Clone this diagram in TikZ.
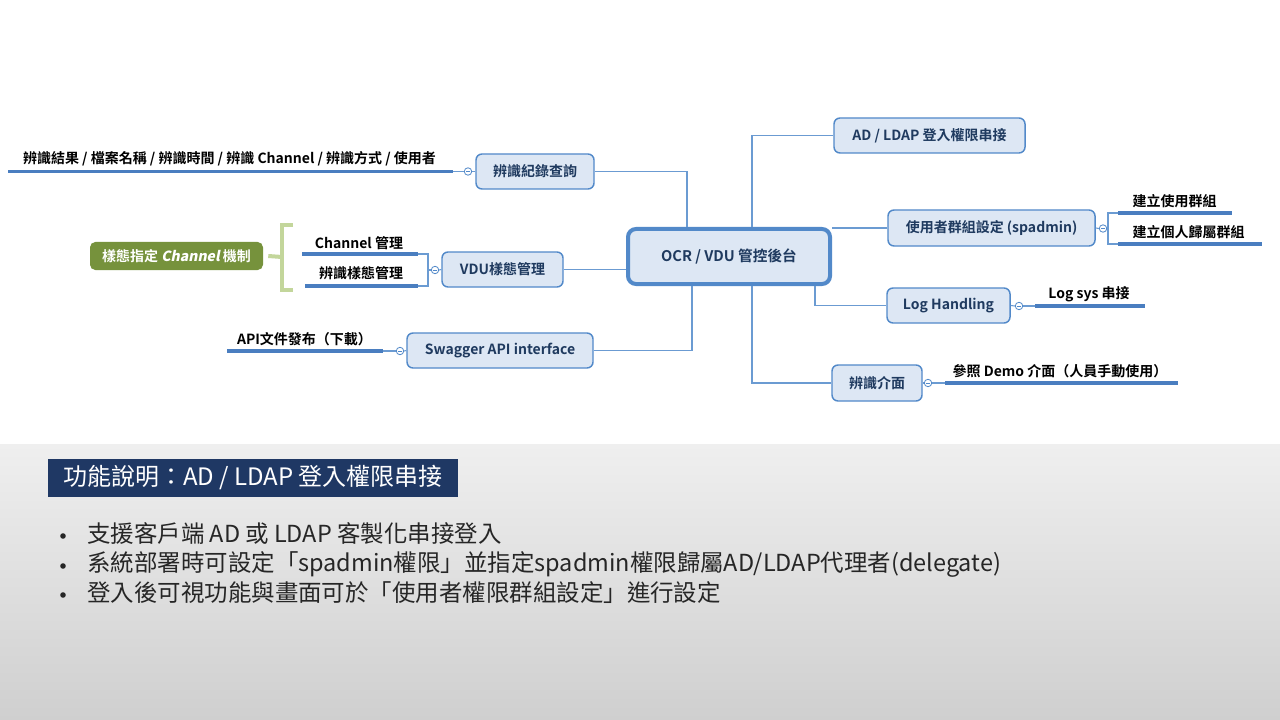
\documentclass[tikz,border=0pt]{standalone}
\usepackage{fontspec}
\setmainfont{Noto Sans CJK TC}[BoldFont={Noto Sans CJK TC Bold}]
\newfontfamily\slfont{Noto Sans CJK TC Bold}[FakeSlant=0.2]
\usetikzlibrary{calc}
\definecolor{bordc}{HTML}{5289C9}
\definecolor{connc}{HTML}{6B9BD2}
\definecolor{fillc}{HTML}{DDE7F4}
\definecolor{navy}{HTML}{1F3A5F}
\definecolor{leafc}{HTML}{4A7EC0}
\definecolor{greenc}{HTML}{76923C}
\definecolor{brkc}{HTML}{C3D69B}
\definecolor{titlec}{HTML}{1F3864}
\definecolor{bgtop}{HTML}{EFEFEF}
\definecolor{bgbot}{HTML}{CFCFCF}
\definecolor{btextc}{HTML}{262626}
\newcommand{\nodefnt}{\fontsize{10.5pt}{12pt}\bfseries\selectfont}
\newcommand{\bottomfnt}{\fontsize{17.6pt}{21pt}\selectfont}
\begin{document}
\begin{tikzpicture}[x=0.75pt,y=-0.75pt,
  mbox/.style={draw=bordc, fill=fillc, rounded corners=4.5pt, line width=1.1pt,
    text=navy, font=\nodefnt, inner sep=0pt, minimum height=26.25pt},
  conn/.style={draw=connc, line width=0.8pt},
  leaf/.style={draw=leafc, line width=2.3pt},
  brk/.style={draw=brkc, line width=3pt},
  circ/.style={circle, draw=bordc, fill=white, minimum size=5.6pt, inner sep=0pt, line width=0.6pt,
    path picture={\draw[bordc,line width=0.5pt] ([xshift=-1.4pt]path picture bounding box.center) -- ([xshift=1.4pt]path picture bounding box.center);}},
  ctext/.style={font=\nodefnt, text=black, inner sep=0pt},
  btext/.style={font=\bottomfnt, text=btextc, inner sep=0pt, anchor=west},
  bdot/.style={circle, fill=btextc, minimum size=4.2pt, inner sep=0pt}
]
\useasboundingbox (0,0) rectangle (1280,720);
\fill[white] (0,0) rectangle (1280,444);
\shade[top color=bgtop, bottom color=bgbot] (0,444) rectangle (1280,720);

% main nodes
\node[mbox, line width=3pt, rounded corners=6pt, minimum width=151.5pt, minimum height=41.25pt,
  font=\fontsize{11pt}{13pt}\bfseries\selectfont] (central) at (729,256.5) {OCR / VDU 管控後台};
\node[mbox, minimum width=143.25pt] (ad) at (929.5,135.5) {AD / LDAP 登入權限串接};
\node[mbox, minimum width=155.25pt, minimum height=27pt] (grp) at (991.5,228) {使用者群組設定 (spadmin)};
\node[mbox, minimum width=92.25pt] (log) at (948.5,305.5) {Log Handling};
\node[mbox, minimum width=67.5pt, minimum height=27pt] (ui) at (877,383) {辨識介面};
\node[mbox, minimum width=88.5pt] (rec) at (535,171.5) {辨識紀錄查詢};
\node[mbox, minimum width=90.75pt] (vdu) at (502.5,269.5) {VDU樣態管理};
\node[mbox, minimum width=139.5pt] (swag) at (500,350.5) {Swagger API interface};
\node[fill=greenc, rounded corners=4pt, minimum width=129.75pt, minimum height=21pt, inner sep=0pt,
  text=white, font=\nodefnt] (gn) at (176.5,256) {樣態指定 {\slfont Channel} 機制};

% connectors from central
\draw[conn] ($(central.north)+(23,0)$) |- (ad.west);
\draw[conn] ($(central.north)+(-42,0)$) |- (rec.east);
\draw[conn] (grp.west) -- (grp.west -| central.east);
\draw[conn] (vdu.east) -- (vdu.east -| central.west);
\draw[conn] ($(central.south)+(86,0)$) |- (log.west);
\draw[conn] ($(central.south)+(-37,0)$) |- (swag.east);
\draw[conn] ($(central.south)+(23,0)$) |- (ui.west);

% rec children
\node[circ] (rcc) at (468,171.5) {};
\coordinate (rl) at (8,171.5);
\coordinate (rr) at (453,171.5);
\draw[conn] (rec.west) -- (rcc.east);
\draw[conn] (rcc.west) -- (rr);
\draw[leaf] (rl) -- (rr);
\node[ctext] (rt) at (229.5,159) {辨識結果 / 檔案名稱 / 辨識時間 / 辨識 Channel / 辨識方式 / 使用者};

% vdu children
\node[circ] (vc) at (435,270) {};
\coordinate (vt) at (428,254);
\coordinate (vb) at (428,286);
\coordinate (v1a) at (302,254);
\coordinate (v1b) at (418,254);
\coordinate (v2a) at (305,286);
\coordinate (v2b) at (418,286);
\draw[conn] (vdu.west) -- (vc.east);
\draw[conn] (vc.west) -- (vc.west -| vt);
\draw[conn] (v1b) -- (vt) -- (vb) -- (v2b);
\draw[leaf] (v1a) -- (v1b);
\draw[leaf] (v2a) -- (v2b);
\node[ctext] (vt1) at (359,243) {Channel 管理};
\node[ctext] (vt2) at (361,273) {辨識樣態管理};

% green bracket
\coordinate (bk) at (282,257);
\draw[brk] (293,225) -- (282,225) -- (282,290) -- (293,290);
\draw[brk] ($(gn.east)+(5,0)$) -- (bk);

% swagger children
\node[circ] (sc) at (400,351) {};
\coordinate (sl) at (227,351);
\coordinate (sr) at (383,351);
\draw[conn] (swag.west) -- (sc.east);
\draw[conn] (sc.west) -- (sr);
\draw[leaf] (sl) -- (sr);
\node[ctext] (st) at (304.5,339) {API文件發布（下載）};

% group children
\node[circ] (gc) at (1103,228.5) {};
\coordinate (gt) at (1108,213);
\coordinate (gb) at (1108,244);
\coordinate (g1a) at (1118,213);
\coordinate (g1b) at (1232,213);
\coordinate (g2a) at (1118,244);
\coordinate (g2b) at (1262,244);
\draw[conn] (grp.east) -- (gc.west);
\draw[conn] (gc.east) -- (gc.east -| gt);
\draw[conn] (g1a) -- (gt) -- (gb) -- (g2a);
\draw[leaf] (g1a) -- (g1b);
\draw[leaf] (g2a) -- (g2b);
\node[ctext] (gt1) at (1174.5,201) {建立使用群組};
\node[ctext] (gt2) at (1188.5,232) {建立個人歸屬群組};

% log children
\node[circ] (lc) at (1019,306) {};
\coordinate (ll) at (1035,306);
\coordinate (lr) at (1145,306);
\draw[conn] (log.east) -- (lc.west);
\draw[conn] (lc.east) -- (ll);
\draw[leaf] (ll) -- (lr);
\node[ctext] (lt) at (1089,294) {Log sys 串接};

% ui children
\node[circ] (uc) at (928,383) {};
\coordinate (ul) at (945,383);
\coordinate (ur) at (1178,383);
\draw[conn] (ui.east) -- (uc.west);
\draw[conn] (uc.east) -- (ul);
\draw[leaf] (ul) -- (ur);
\node[ctext] (ut) at (1060,371) {參照 Demo 介面（人員手動使用）};

% bottom description
\node[fill=titlec, minimum width=307.5pt, minimum height=28.5pt, inner sep=0pt, text=white,
  font=\fontsize{18pt}{21pt}\selectfont] (title) at (253,478) {功能說明：AD / LDAP 登入權限串接};
\node[bdot] (d1) at (63,536) {};
\node[bdot] (d2) at (63,566) {};
\node[bdot] (d3) at (63,595) {};
\node[btext] (b1) at (87,534) {支援客戶端 AD 或 LDAP 客製化串接登入};
\node[btext] (b2) at (87,564) {系統部署時可設定「spadmin權限」並指定spadmin權限歸屬AD/LDAP代理者(delegate)};
\node[btext] (b3) at (87,593) {登入後可視功能與畫面可於「使用者權限群組設定」進行設定};
\end{tikzpicture}
\end{document}
